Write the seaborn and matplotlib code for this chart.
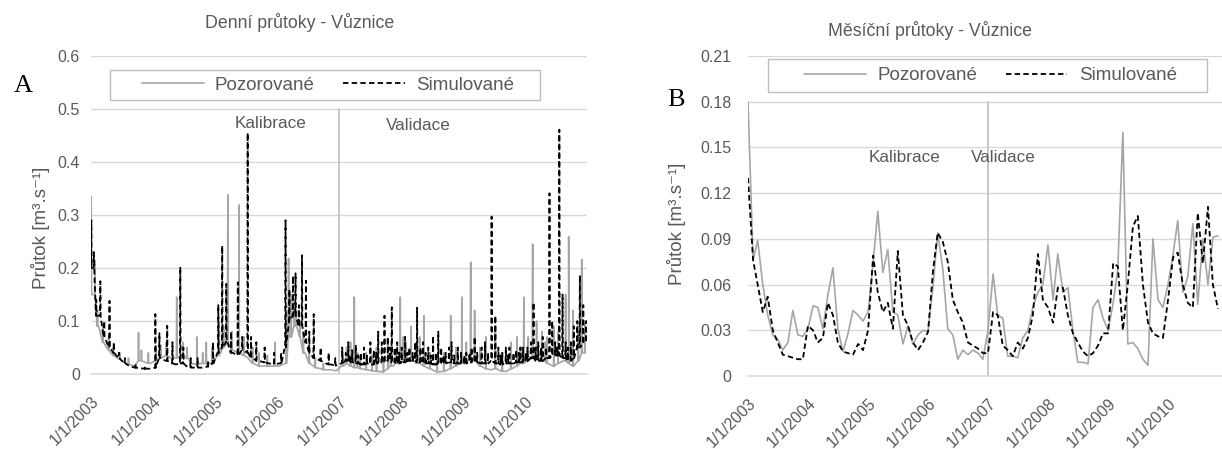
import matplotlib
matplotlib.use("Agg")
import matplotlib.pyplot as plt
import matplotlib.dates as mdates
from matplotlib.patches import Rectangle
import numpy as np
import pandas as pd
import seaborn as sns

sns.set_theme(style="white")
plt.rcParams['font.family'] = ['Liberation Sans', 'DejaVu Sans']

# ---------------- DATA ----------------
# Daily chart: monthly base level (mid-month) + peaks
obs_daily_base = [
    0.15, 0.09, 0.06, 0.045, 0.035, 0.028, 0.022, 0.018, 0.015, 0.025, 0.022, 0.02,
    0.025, 0.03, 0.035, 0.03, 0.03, 0.035, 0.03, 0.02, 0.018, 0.02, 0.02, 0.02,
    0.035, 0.05, 0.06, 0.045, 0.04, 0.035, 0.03, 0.02, 0.015, 0.015, 0.015, 0.015,
    0.015, 0.02, 0.07, 0.09, 0.07, 0.04, 0.02, 0.012, 0.01, 0.008, 0.008, 0.006,
    0.015, 0.02, 0.015, 0.012, 0.01, 0.008, 0.006, 0.005, 0.004, 0.01, 0.015, 0.02,
    0.025, 0.03, 0.025, 0.02, 0.015, 0.01, 0.006, 0.004, 0.005, 0.01, 0.015, 0.02,
    0.02, 0.03, 0.025, 0.015, 0.01, 0.008, 0.01, 0.005, 0.005, 0.01, 0.015, 0.02,
    0.025, 0.03, 0.035, 0.025, 0.02, 0.015, 0.02, 0.025, 0.02, 0.015, 0.025, 0.04,
]
sim_daily_base = [
    0.20, 0.11, 0.07, 0.05, 0.04, 0.03, 0.02, 0.015, 0.012, 0.011, 0.01, 0.01,
    0.012, 0.03, 0.025, 0.02, 0.018, 0.02, 0.015, 0.012, 0.012, 0.012, 0.014, 0.02,
    0.04, 0.05, 0.06, 0.04, 0.035, 0.045, 0.04, 0.03, 0.025, 0.022, 0.02, 0.018,
    0.02, 0.05, 0.10, 0.11, 0.09, 0.06, 0.04, 0.03, 0.025, 0.02, 0.018, 0.016,
    0.02, 0.025, 0.022, 0.02, 0.018, 0.02, 0.018, 0.02, 0.022, 0.025, 0.022, 0.02,
    0.022, 0.025, 0.025, 0.022, 0.02, 0.02, 0.018, 0.02, 0.02, 0.022, 0.02, 0.02,
    0.02, 0.022, 0.022, 0.02, 0.02, 0.025, 0.02, 0.018, 0.02, 0.02, 0.022, 0.022,
    0.025, 0.03, 0.025, 0.025, 0.03, 0.035, 0.035, 0.03, 0.025, 0.03, 0.05, 0.06,
]
obs_daily_peaks = [
    ("2003-01-02", 0.335), ("2003-01-24", 0.214), ("2003-02-08", 0.12), ("2003-03-12", 0.09),
    ("2003-04-15", 0.07), ("2003-05-12", 0.05), ("2003-06-20", 0.04), ("2003-08-10", 0.03),
    ("2003-10-08", 0.078), ("2003-10-25", 0.045), ("2003-12-05", 0.04), ("2004-01-20", 0.05),
    ("2004-02-15", 0.055), ("2004-03-20", 0.06), ("2004-05-20", 0.145), ("2004-06-25", 0.06),
    ("2004-07-20", 0.05), ("2004-09-15", 0.07), ("2004-10-20", 0.04), ("2004-11-10", 0.06),
    ("2004-12-15", 0.05), ("2005-01-25", 0.10), ("2005-02-20", 0.09), ("2005-03-17", 0.338),
    ("2005-04-10", 0.08), ("2005-05-22", 0.319), ("2005-06-20", 0.07), ("2005-08-10", 0.05),
    ("2005-09-15", 0.04), ("2005-11-05", 0.035), ("2005-12-20", 0.06), ("2006-02-25", 0.12),
    ("2006-03-10", 0.218), ("2006-03-25", 0.15), ("2006-04-12", 0.13), ("2006-04-25", 0.12),
    ("2006-05-15", 0.10), ("2006-06-05", 0.08), ("2006-07-10", 0.04), ("2006-08-15", 0.03),
    ("2006-10-01", 0.02), ("2007-01-25", 0.04), ("2007-02-15", 0.05), ("2007-03-10", 0.06),
    ("2007-04-01", 0.145), ("2007-04-20", 0.04), ("2007-05-05", 0.03), ("2007-06-10", 0.04),
    ("2007-07-15", 0.035), ("2007-08-10", 0.05), ("2007-09-20", 0.03), ("2007-10-15", 0.06),
    ("2007-11-01", 0.05), ("2007-12-01", 0.04), ("2007-12-28", 0.145), ("2008-01-15", 0.07),
    ("2008-02-01", 0.06), ("2008-03-01", 0.09), ("2008-04-01", 0.06), ("2008-04-20", 0.07),
    ("2008-05-15", 0.11), ("2008-06-20", 0.04), ("2008-08-01", 0.03), ("2008-09-10", 0.04),
    ("2008-10-20", 0.11), ("2008-11-20", 0.05), ("2008-12-25", 0.145), ("2009-01-20", 0.06),
    ("2009-02-15", 0.211), ("2009-03-10", 0.12), ("2009-04-10", 0.05), ("2009-05-15", 0.07),
    ("2009-07-10", 0.09), ("2009-08-20", 0.03), ("2009-10-10", 0.06), ("2009-11-15", 0.07),
    ("2009-12-05", 0.05), ("2009-12-25", 0.145), ("2010-01-20", 0.07), ("2010-02-15", 0.245),
    ("2010-03-10", 0.10), ("2010-04-10", 0.08), ("2010-04-28", 0.06), ("2010-05-10", 0.07),
    ("2010-06-20", 0.09), ("2010-07-15", 0.08), ("2010-08-28", 0.15), ("2010-09-15", 0.259),
    ("2010-10-10", 0.12), ("2010-11-10", 0.08), ("2010-12-01", 0.216), ("2010-12-20", 0.10),
]
sim_daily_peaks = [
    ("2003-01-03", 0.29), ("2003-01-18", 0.23), ("2003-02-01", 0.14), ("2003-02-25", 0.175),
    ("2003-03-20", 0.10), ("2003-04-20", 0.138), ("2003-05-15", 0.06), ("2003-06-15", 0.04),
    ("2003-07-20", 0.03), ("2003-09-20", 0.02), ("2003-11-15", 0.015), ("2004-01-15", 0.113),
    ("2004-02-08", 0.077), ("2004-03-25", 0.091), ("2004-04-25", 0.06), ("2004-06-10", 0.202),
    ("2004-06-28", 0.05), ("2004-08-10", 0.03), ("2004-09-20", 0.03), ("2004-11-20", 0.025),
    ("2004-12-20", 0.06), ("2005-01-20", 0.13), ("2005-02-12", 0.242), ("2005-03-08", 0.17),
    ("2005-04-05", 0.08), ("2005-05-15", 0.173), ("2005-06-10", 0.07), ("2005-07-12", 0.455),
    ("2005-08-01", 0.07), ("2005-09-01", 0.06), ("2005-10-20", 0.05), ("2005-12-15", 0.04),
    ("2006-01-25", 0.04), ("2006-02-20", 0.29), ("2006-03-15", 0.16), ("2006-04-05", 0.185),
    ("2006-04-20", 0.19), ("2006-05-10", 0.13), ("2006-05-28", 0.224), ("2006-06-20", 0.176),
    ("2006-07-10", 0.08), ("2006-08-05", 0.113), ("2006-09-15", 0.05), ("2006-11-01", 0.04),
    ("2006-12-10", 0.03), ("2007-01-20", 0.05), ("2007-02-10", 0.04), ("2007-02-25", 0.06),
    ("2007-03-08", 0.035), ("2007-03-20", 0.045), ("2007-04-10", 0.055), ("2007-04-25", 0.035),
    ("2007-05-10", 0.04), ("2007-05-28", 0.05), ("2007-06-15", 0.035), ("2007-07-05", 0.06),
    ("2007-07-25", 0.045), ("2007-08-08", 0.04), ("2007-08-20", 0.08), ("2007-09-10", 0.06),
    ("2007-09-26", 0.11), ("2007-10-15", 0.07), ("2007-10-28", 0.05), ("2007-11-08", 0.126),
    ("2007-11-25", 0.05), ("2007-12-10", 0.06), ("2007-12-22", 0.04), ("2008-01-05", 0.05),
    ("2008-01-25", 0.07), ("2008-02-08", 0.04), ("2008-02-20", 0.05), ("2008-03-10", 0.04),
    ("2008-03-25", 0.06), ("2008-04-05", 0.125), ("2008-04-25", 0.05), ("2008-05-10", 0.06),
    ("2008-05-25", 0.04), ("2008-06-10", 0.05), ("2008-06-25", 0.035), ("2008-07-08", 0.072),
    ("2008-07-25", 0.04), ("2008-08-08", 0.08), ("2008-08-25", 0.05), ("2008-09-08", 0.035),
    ("2008-09-20", 0.04), ("2008-10-10", 0.05), ("2008-10-25", 0.06), ("2008-11-10", 0.035),
    ("2008-12-01", 0.05), ("2008-12-20", 0.04), ("2009-01-08", 0.035), ("2009-01-20", 0.04),
    ("2009-02-08", 0.04), ("2009-02-20", 0.05), ("2009-03-10", 0.07), ("2009-03-25", 0.04),
    ("2009-04-20", 0.05), ("2009-05-10", 0.06), ("2009-05-28", 0.04), ("2009-06-18", 0.297),
    ("2009-07-10", 0.11), ("2009-07-28", 0.05), ("2009-08-10", 0.035), ("2009-08-20", 0.04),
    ("2009-09-10", 0.05), ("2009-09-22", 0.035), ("2009-10-01", 0.05), ("2009-10-25", 0.04),
    ("2009-11-10", 0.045), ("2009-11-25", 0.04), ("2009-12-05", 0.05), ("2009-12-20", 0.05),
    ("2010-01-05", 0.04), ("2010-01-15", 0.05), ("2010-02-05", 0.06), ("2010-02-20", 0.135),
    ("2010-03-05", 0.05), ("2010-03-20", 0.06), ("2010-04-05", 0.05), ("2010-04-15", 0.07),
    ("2010-05-05", 0.05), ("2010-05-25", 0.341), ("2010-06-10", 0.10), ("2010-06-28", 0.06),
    ("2010-07-10", 0.05), ("2010-07-22", 0.461), ("2010-08-10", 0.15), ("2010-08-28", 0.06),
    ("2010-09-10", 0.05), ("2010-09-28", 0.06), ("2010-10-15", 0.09), ("2010-11-05", 0.10),
    ("2010-11-20", 0.186), ("2010-12-10", 0.13), ("2010-12-28", 0.10),
]

# Monthly chart (first of month, from Jan 2003)
obs_monthly = [
    0.180, 0.076, 0.089, 0.060, 0.040, 0.027, 0.024, 0.017, 0.022, 0.043, 0.027, 0.026,
    0.031, 0.046, 0.045, 0.031, 0.053, 0.071, 0.031, 0.016, 0.028, 0.043, 0.040, 0.036,
    0.042, 0.075, 0.108, 0.068, 0.083, 0.042, 0.040, 0.021, 0.033, 0.021, 0.027, 0.030,
    0.029, 0.060, 0.094, 0.070, 0.031, 0.027, 0.011, 0.017, 0.014, 0.017, 0.015, 0.011,
    0.030, 0.067, 0.040, 0.038, 0.013, 0.013, 0.012, 0.025, 0.030, 0.045, 0.055, 0.060,
    0.086, 0.050, 0.080, 0.055, 0.058, 0.030, 0.009, 0.009, 0.008, 0.045, 0.050, 0.038,
    0.030, 0.048, 0.070, 0.160, 0.021, 0.022, 0.018, 0.011, 0.007, 0.090, 0.050, 0.045,
    0.060, 0.080, 0.102, 0.055, 0.065, 0.100, 0.047, 0.090, 0.060, 0.091, 0.092,
]
sim_monthly = [
    0.130, 0.076, 0.060, 0.042, 0.052, 0.030, 0.022, 0.014, 0.013, 0.012, 0.011, 0.011,
    0.033, 0.030, 0.022, 0.025, 0.048, 0.040, 0.022, 0.016, 0.015, 0.014, 0.021, 0.017,
    0.030, 0.079, 0.055, 0.042, 0.048, 0.031, 0.082, 0.040, 0.033, 0.022, 0.017, 0.022,
    0.029, 0.070, 0.094, 0.088, 0.075, 0.050, 0.042, 0.035, 0.022, 0.020, 0.018, 0.015,
    0.015, 0.042, 0.040, 0.020, 0.017, 0.013, 0.022, 0.018, 0.025, 0.040, 0.080, 0.050,
    0.045, 0.035, 0.058, 0.058, 0.040, 0.028, 0.022, 0.016, 0.013, 0.015, 0.020, 0.028,
    0.028, 0.074, 0.072, 0.030, 0.060, 0.098, 0.105, 0.060, 0.035, 0.028, 0.026, 0.025,
    0.050, 0.078, 0.081, 0.060, 0.048, 0.045, 0.107, 0.074, 0.111, 0.060, 0.044,
]

split_date = "2007-01-01"
split_top_daily = 0.5
split_top_monthly = 0.18
year_ticks = ["1/1/2003", "1/1/2004", "1/1/2005", "1/1/2006",
              "1/1/2007", "1/1/2008", "1/1/2009", "1/1/2010"]
series_names = ["Pozorované", "Simulované"]
titles = ["Denní průtoky - Vůznice", "Měsíční průtoky - Vůznice"]
ylabel = "Průtok [m³.s⁻¹]"

# ---------------- BUILD ----------------
start = pd.Timestamp("2003-01-01")


def daily_frame(base, peaks):
    mid = pd.date_range(start, periods=len(base), freq="MS") + pd.Timedelta(days=14)
    pts = list(zip(mid, base))
    for ds, peak in peaks:
        d = pd.Timestamp(ds)
        b = base[(d.year - 2003) * 12 + d.month - 1]
        pts += [(d - pd.Timedelta(days=2), b), (d, peak), (d + pd.Timedelta(days=2), b)]
    return pd.DataFrame(pts, columns=["date", "flow"]).sort_values("date").reset_index(drop=True)


obs_d = daily_frame(obs_daily_base, obs_daily_peaks)
sim_d = daily_frame(sim_daily_base, sim_daily_peaks)
obs_m = pd.DataFrame({"date": pd.date_range(start, periods=len(obs_monthly), freq="MS"), "flow": obs_monthly})
sim_m = pd.DataFrame({"date": pd.date_range(start, periods=len(sim_monthly), freq="MS"), "flow": sim_monthly})

W, H = 1222, 449
fig = plt.figure(figsize=(W / 100, H / 100), dpi=100)


def px(x, y):
    return x / W, 1 - y / H


GRAY_TXT = "#595959"
OBS_C = "#a6a6a6"
SIM_C = "#000000"
GRID_C = "#d9d9d9"
DASH = (0, (3, 1.8))

ax1 = fig.add_axes([91 / W, 1 - 374 / H, 496 / W, (374 - 56) / H])
ax2 = fig.add_axes([748 / W, 1 - 376 / H, 480 / W, (376 - 56) / H])

for ax, o, s, top, ymax, ystep, ypad in [
    (ax1, obs_d, sim_d, split_top_daily, 0.6, 0.1, 8),
    (ax2, obs_m, sim_m, split_top_monthly, 0.21, 0.03, 12),
]:
    split = pd.DataFrame({"date": [pd.Timestamp(split_date)] * 2, "flow": [0, top]})
    sns.lineplot(data=split, x="date", y="flow", ax=ax, color="#bfbfbf", lw=1.2,
                 estimator=None, sort=False, legend=False)
    sns.lineplot(data=o, x="date", y="flow", ax=ax, color=OBS_C, lw=1.2,
                 estimator=None, sort=False, label=series_names[0])
    sns.lineplot(data=s, x="date", y="flow", ax=ax, color=SIM_C, lw=1.3,
                 estimator=None, sort=False, label=series_names[1], linestyle=DASH)
    ax.set_xlim(pd.Timestamp("2003-01-01"), pd.Timestamp("2011-01-01"))
    ax.set_ylim(0, ymax)
    yt = np.round(np.arange(0, ymax + ystep / 2, ystep), 3)
    ax.set_yticks(yt)
    ax.set_yticklabels([f"{v:g}" for v in yt])
    ax.set_xticks([pd.Timestamp(t) for t in year_ticks])
    ax.set_xticklabels(year_ticks, rotation=45, ha="right", rotation_mode="anchor")
    ax.yaxis.grid(True, color=GRID_C, lw=1)
    ax.xaxis.grid(False)
    for sp in ["top", "right", "left"]:
        ax.spines[sp].set_visible(False)
    ax.spines["bottom"].set_color(GRID_C)
    ax.spines["bottom"].set_linewidth(1.2)
    ax.tick_params(axis="x", direction="out", length=5, color=GRID_C, width=1.2,
                   labelsize=11.5, labelcolor=GRAY_TXT, pad=9)
    ax.tick_params(axis="y", length=0, labelsize=11.5, labelcolor=GRAY_TXT, pad=ypad)
    ax.set_xlabel("")
    ax.set_ylabel("")
    ax.get_legend().remove()
    ax.set_facecolor("white")

# extra x tick at the end of the daily axis (no label)
ax1.set_xticks(list(ax1.get_xticks()) + [mdates.date2num(pd.Timestamp("2011-01-01"))])
ax1.set_xticklabels(year_ticks + [""], rotation=45, ha="right", rotation_mode="anchor")

# legends: frame rectangle + centred entries
handles, labels = ax1.get_lines()[1:3], series_names
for (x0, y0, x1, y1) in [(110, 70, 540, 100), (768, 59, 1207, 92)]:
    fx, fy = px(x0, y1)
    fig.add_artist(Rectangle((fx, fy), (x1 - x0) / W, (y1 - y0) / H,
                             transform=fig.transFigure, fill=True, facecolor="white",
                             edgecolor="#bfbfbf", lw=1.0, zorder=5))
    leg = fig.legend(handles, labels, loc="center", ncol=2,
                     bbox_to_anchor=px((x0 + x1) / 2 + 3, (y0 + y1) / 2),
                     frameon=False, fontsize=13.5, handlelength=3.3,
                     handletextpad=0.6, columnspacing=1.5, borderpad=0)
    leg.set_zorder(6)
    for t in leg.get_texts():
        t.set_color(GRAY_TXT)

# titles
fig.text(*px(300, 22), titles[0], ha="center", va="center", fontsize=12.8, color=GRAY_TXT)
fig.text(*px(930, 30), titles[1], ha="center", va="center", fontsize=12.8, color=GRAY_TXT)

# y labels
fig.text(*px(41, 228), ylabel, ha="center", va="center", rotation=90, fontsize=13.5, color=GRAY_TXT)
fig.text(*px(677, 224), ylabel, ha="center", va="center", rotation=90, fontsize=13.5, color=GRAY_TXT)

# period labels
for (x, y, t) in [(271, 124, "Kalibrace"), (418, 125, "Validace"),
                  (905, 157, "Kalibrace"), (1003, 157, "Validace")]:
    fig.text(*px(x, y), t, ha="center", va="center", fontsize=12.3, color=GRAY_TXT)

# panel letters
fig.text(*px(23, 86), "A", ha="center", va="center", fontsize=19,
         family=["Liberation Serif"], color="black")
fig.text(*px(676, 100), "B", ha="center", va="center", fontsize=19,
         family=["Liberation Serif"], color="black")

fig.savefig("out.png", dpi=100, facecolor="white")
